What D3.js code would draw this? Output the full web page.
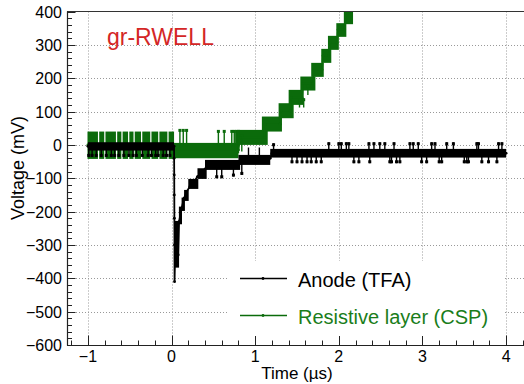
<!DOCTYPE html>
<meta charset="utf-8">
<style>
body { margin: 0; background: #fff; }
svg text { font-family: "Liberation Sans", Arial, sans-serif; }
</style>
<svg id="chart" width="524" height="384"></svg>
<script src="https://d3js.org/d3.v7.min.js"></script>
<script>

// time in microseconds, voltage in mV
var xTicks = [-1, 0, 1, 2, 3, 4];
var yTicks = [-600, -500, -400, -300, -200, -100, 0, 100, 200, 300, 400];

// Anode (TFA): dense error-bar bands [t0, t1, vLow, vHigh]
var anodeBands = [
  [-1.00, 0.030, -17, 8],
  [0.035, 0.090, -368, -228],
  [0.088, 0.125, -238, -185],
  [0.120, 0.160, -198, -158],
  [0.150, 0.205, -168, -135],
  [0.200, 0.320, -132, -102],
  [0.310, 0.420, -102, -70],
  [0.400, 0.820, -75, -45],
  [0.800, 1.180, -60, -30],
  [1.180, 4.000, -38, -12]
];
// Anode centre trace [t, v]
var anodeTrace = [
  [-1.00, -4], [0.030, -4], [0.031, -40], [0.032, -90], [0.033, -150], [0.034, -220],
  [0.035, -300], [0.036, -410], [0.045, -300], [0.055, -360], [0.065, -250], [0.080, -330],
  [0.090, -230], [0.120, -190], [0.150, -160], [0.180, -140], [0.220, -125], [0.270, -110],
  [0.310, -95], [0.360, -82], [0.420, -65], [0.600, -60], [0.820, -55], [0.900, -45],
  [1.180, -40], [1.200, -25], [4.000, -25]
];
// Anode error bars sticking out of the bands [t, vLow, vHigh]
var anodeSpikes = [
  [-0.99, -36, -5], [-0.95, -36, -5], [-0.90, -36, -5], [-0.84, -36, -5], [-0.78, -36, -5],
  [-0.72, -36, -5], [-0.68, -36, -5], [-0.63, -36, -5], [-0.57, -36, -5], [-0.51, -36, -5],
  [-0.46, -36, -5], [-0.42, -36, -5], [-0.35, -36, -5], [-0.28, -36, -5], [-0.24, -36, -5],
  [-0.19, -36, -5], [-0.16, -36, -5], [-0.10, -36, -5], [-0.06, -36, -5], [-0.02, -36, -5],
  [0.54, -100, -60], [0.60, -100, -60], [0.74, -95, -60], [0.84, -90, -50],
  [0.92, -40, -8], [1.05, -40, -8], [1.22, -25, 5],
  [1.44, -55, -25], [1.50, -55, -25], [1.56, -55, -25], [1.62, -55, -25], [1.67, -55, -25],
  [1.73, -55, -25], [1.79, -55, -25],
  [1.88, -25, 8], [2.00, -25, 8], [2.03, -25, 8], [2.09, -25, 8], [2.12, -25, 8],
  [2.18, -55, -25], [2.24, -55, -25], [2.36, -25, 8], [2.37, -55, -25], [2.42, -25, 8],
  [2.49, -25, 8], [2.55, -25, 8], [2.61, -55, -25], [2.63, -55, -25], [2.66, -25, 8],
  [2.69, -55, -25], [2.73, -55, -25], [2.85, -25, 8], [2.89, -25, 8], [2.95, -25, 8],
  [2.99, -55, -25], [3.05, -55, -25], [3.11, -25, 8], [3.15, -25, 8], [3.20, -55, -25],
  [3.23, -55, -25], [3.29, -25, 8], [3.37, -25, 8], [3.50, -55, -25], [3.53, -55, -25],
  [3.55, -55, -25], [3.65, -25, 8], [3.67, -25, 8], [3.71, -55, -25], [3.79, -55, -25],
  [3.89, -55, -25], [3.91, -25, 8], [3.95, -25, 8]
];

// Resistive layer (CSP): bands [t0, t1, vLow, vHigh]
var resistBands = [
  [-1.005, -0.880, -42, 40], [-0.865, -0.805, -42, 40], [-0.790, -0.665, -42, 40],
  [-0.650, -0.600, -42, 40], [-0.585, -0.520, -42, 40], [-0.505, -0.455, -42, 40],
  [-0.440, -0.365, -42, 40], [-0.350, -0.255, -42, 40], [-0.240, -0.160, -42, 40],
  [-0.145, -0.050, -42, 40], [-0.035, 0.030, -42, 40],
  [0.030, 0.800, -40, 6],
  [0.760, 1.150, 0, 45],
  [1.080, 1.320, 40, 85],
  [1.280, 1.460, 80, 125],
  [1.400, 1.580, 120, 165],
  [1.540, 1.720, 163, 205],
  [1.670, 1.820, 204, 246],
  [1.790, 1.910, 246, 288],
  [1.870, 2.000, 285, 327],
  [1.970, 2.090, 324, 365],
  [2.060, 2.170, 362, 410]
];
var resistTrace = [
  [-1.00, 0], [0.030, 0], [0.040, -15], [0.800, -15], [0.820, 22], [1.110, 22],
  [1.120, 62], [1.300, 62], [1.310, 102], [1.420, 102], [1.430, 142], [1.560, 142],
  [1.570, 184], [1.690, 184], [1.700, 225], [1.800, 225], [1.810, 267], [1.880, 267],
  [1.890, 306], [1.980, 306], [1.990, 345], [2.070, 345], [2.080, 384], [2.170, 410]
];
var resistSpikes = [
  [0.10, -5, 48], [0.14, -5, 48], [0.18, -5, 48],
  [0.56, -5, 45], [0.63, -5, 45], [0.72, -5, 45], [0.75, -5, 45], [0.80, -25, 45],
  [0.84, -20, 30], [1.53, 112, 140], [1.58, 112, 140], [1.63, 150, 180]
];

var legendLabels = ["Anode (TFA)", "Resistive layer (CSP)"];

var black = "#000000",
    green = "#0b6b0b";

var svg = d3.select("#chart");

var x = d3.scaleLinear().domain([-1.25, 4.25]).range([67, 527]);
var y = d3.scaleLinear().domain([-600, 400]).range([345, 11.5]);

svg.append("defs").append("clipPath").attr("id", "plotClip")
  .append("rect")
    .attr("x", x(-1.25)).attr("y", y(400))
    .attr("width", x(4.25) - x(-1.25)).attr("height", y(-600) - y(400));

// dotted grid
var grid = svg.append("g").attr("stroke", "#999").attr("stroke-width", 1)
    .attr("stroke-dasharray", "1,2");
grid.selectAll(".gx").data(xTicks).enter().append("line")
    .attr("x1", function(d) { return Math.round(x(d)) + 0.5; })
    .attr("x2", function(d) { return Math.round(x(d)) + 0.5; })
    .attr("y1", y(400)).attr("y2", y(-600));
grid.selectAll(".gy").data(yTicks.filter(function(d) { return d > -600 && d < 400; })).enter().append("line")
    .attr("y1", function(d) { return Math.round(y(d)) + 0.5; })
    .attr("y2", function(d) { return Math.round(y(d)) + 0.5; })
    .attr("x1", x(-1.25)).attr("x2", x(4.25));

var plot = svg.append("g").attr("clip-path", "url(#plotClip)");

function drawSeries(bands, trace, spikes, color) {
  var g = plot.append("g");
  g.selectAll("rect").data(bands).enter().append("rect")
      .attr("x", function(d) { return x(d[0]); })
      .attr("width", function(d) { return Math.max(1.5, x(d[1]) - x(d[0])); })
      .attr("y", function(d) { return y(d[3]); })
      .attr("height", function(d) { return y(d[2]) - y(d[3]); })
      .attr("fill", color);
  g.selectAll(".spike").data(spikes).enter().append("line")
      .attr("x1", function(d) { return x(d[0]); })
      .attr("x2", function(d) { return x(d[0]); })
      .attr("y1", function(d) { return y(d[1]); })
      .attr("y2", function(d) { return y(d[2]); })
      .attr("stroke", color).attr("stroke-width", 1.4);
  g.selectAll(".cap").data(spikes).enter().append("rect")
      .attr("x", function(d) { return x(d[0]) - 1.5; })
      .attr("y", function(d) { return (d[2] > 0 || d[1] > -30 ? y(d[2]) : y(d[1]) - 3); })
      .attr("width", 3).attr("height", 3)
      .attr("fill", color);
  g.append("path").datum(trace)
      .attr("fill", "none").attr("stroke", color).attr("stroke-width", 1.8)
      .attr("d", d3.line().x(function(d) { return x(d[0]); }).y(function(d) { return y(d[1]); }));
  g.selectAll(".pt").data(trace).enter().append("circle")
      .attr("cx", function(d) { return x(d[0]); })
      .attr("cy", function(d) { return y(d[1]); })
      .attr("r", 1.4).attr("fill", color);
}

drawSeries(resistBands, resistTrace, resistSpikes, green);
drawSeries(anodeBands, anodeTrace, anodeSpikes, black);

// frame
svg.append("line").attr("x1", x(-1.25)).attr("x2", 524).attr("y1", 11.5).attr("y2", 11.5)
    .attr("stroke", "#333").attr("stroke-width", 1);
svg.append("line").attr("x1", 67.5).attr("x2", 67.5).attr("y1", 11.5).attr("y2", 345.5)
    .attr("stroke", "#222").attr("stroke-width", 1.2);
svg.append("line").attr("x1", 67).attr("x2", 524).attr("y1", 345.5).attr("y2", 345.5)
    .attr("stroke", "#222").attr("stroke-width", 1.2);

// y ticks (inside)
var yMinor = d3.range(-600, 401, 20);
svg.append("g").selectAll("line").data(yMinor).enter().append("line")
    .attr("x1", 67.5)
    .attr("x2", function(d) { return 67.5 + (d % 100 === 0 ? 8 : 4.5); })
    .attr("y1", function(d) { return Math.round(y(d)) + 0.5; })
    .attr("y2", function(d) { return Math.round(y(d)) + 0.5; })
    .attr("stroke", "#222").attr("stroke-width", 1);

// x ticks (inside)
var xMinor = d3.range(-1.2, 4.25, 0.2).map(function(d) { return Math.round(d * 10) / 10; });
svg.append("g").selectAll("line").data(xMinor).enter().append("line")
    .attr("x1", function(d) { return Math.round(x(d)) + 0.5; })
    .attr("x2", function(d) { return Math.round(x(d)) + 0.5; })
    .attr("y1", 345.5)
    .attr("y2", function(d) { return 345.5 - (Math.abs(d - Math.round(d)) < 1e-6 ? 10 : 5); })
    .attr("stroke", "#222").attr("stroke-width", 1);

var fmt = d3.format("d");
svg.append("g").selectAll("text").data(yTicks).enter().append("text")
    .attr("x", 62)
    .attr("y", function(d) { return y(d) + 6; })
    .attr("text-anchor", "end")
    .attr("font-size", 16)
    .text(function(d) { return fmt(d); });

svg.append("g").selectAll("text").data(xTicks).enter().append("text")
    .attr("x", function(d) { return x(d); })
    .attr("y", 362)
    .attr("text-anchor", "middle")
    .attr("font-size", 16)
    .text(function(d) { return fmt(d); });

// axis titles
svg.append("text")
    .attr("transform", "translate(24,168) rotate(-90)")
    .attr("text-anchor", "middle")
    .attr("font-size", 18)
    .text("Voltage (mV)");
svg.append("text")
    .attr("x", 297).attr("y", 379)
    .attr("text-anchor", "middle")
    .attr("font-size", 17)
    .text("Time (\u00b5s)");

// title
svg.append("text")
    .attr("x", 107).attr("y", 45)
    .attr("font-size", 23)
    .attr("fill", "#d42626")
    .text("gr-RWELL");

// legend
var legend = svg.append("g");
legend.append("rect").attr("x", 229).attr("y", 261).attr("width", 275).attr("height", 75)
    .attr("fill", "#fff");
var legendColors = [black, green];
var item = legend.selectAll(".item").data(legendLabels).enter().append("g")
    .attr("transform", function(d, i) { return "translate(0," + (278.5 + i * 37) + ")"; });
item.append("line").attr("x1", 240).attr("x2", 287).attr("y1", 0).attr("y2", 0)
    .attr("stroke", function(d, i) { return legendColors[i]; }).attr("stroke-width", 1.4);
item.append("circle").attr("cx", 263).attr("cy", 0).attr("r", 1.4)
    .attr("fill", function(d, i) { return legendColors[i]; });
item.append("text").attr("x", 298).attr("y", 8)
    .attr("font-size", 20)
    .attr("fill", function(d, i) { return i === 0 ? "#000" : "#1a7d1a"; })
    .text(function(d) { return d; });

</script>
